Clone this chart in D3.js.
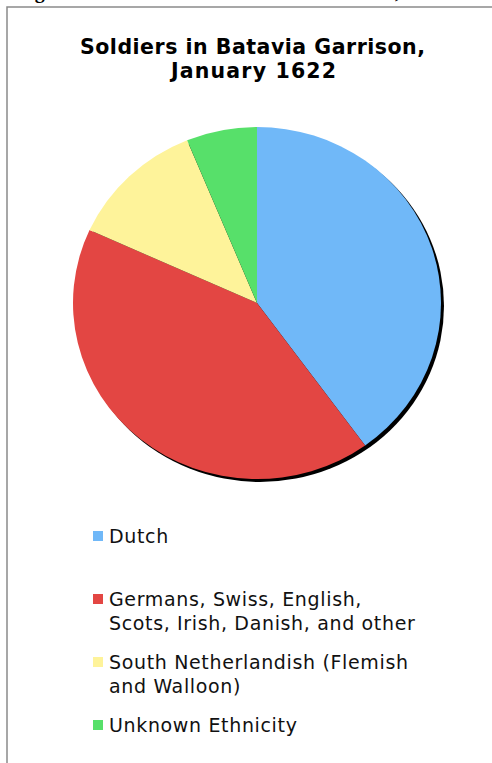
<!DOCTYPE html>
<html>
<head>
<meta charset="utf-8">
<script src="https://cdn.jsdelivr.net/npm/d3@7"></script>
<style>
    body { margin: 0; background: #fff; }
    svg { display: block; }
</style>
</head>
<body>
<div id="chart"></div>
<script>
// pie data (shares, percent)
let categories = ["Dutch", "Germans, Swiss, English, Scots, Irish, Danish, and other", "South Netherlandish (Flemish and Walloon)", "Unknown Ethnicity"];
let values = [40.0, 41.8, 12.0, 6.2];
let colors = ["#70B8F8", "#E34643", "#FEF39A", "#57E06A"];
// legend text split into lines as shown
let legendLines = [["Dutch"], ["Germans, Swiss, English,", "Scots, Irish, Danish, and other"], ["South Netherlandish (Flemish", "and Walloon)"], ["Unknown Ethnicity"]];

let width = 492, height = 763;

let svg = d3.select("#chart").append("svg")
    .attr("width", width)
    .attr("height", height);

// cut-off caption above the frame
svg.append("text")
    .attr("x", 17).attr("y", -2)
    .style("font-family", "Liberation Serif")
    .style("font-weight", "bold")
    .style("font-size", "20px")
    .text("Figure");
svg.append("text")
    .attr("x", 395).attr("y", -2)
    .style("font-family", "Liberation Serif")
    .style("font-weight", "bold")
    .style("font-size", "20px")
    .text(",");

// frame (left and top edges)
svg.append("path")
    .attr("d", `M7,${height} L7,7 L${width},7`)
    .attr("fill", "none")
    .attr("stroke", "#8a8a8a")
    .attr("stroke-width", 1.5);

// title
let title = svg.append("text")
    .style("font-family", "DejaVu Sans")
    .style("font-weight", "bold")
    .style("font-size", "20.5px")
    .attr("fill", "#000");
title.append("tspan").attr("x", 80).attr("y", 54)
    .attr("textLength", 345).attr("lengthAdjust", "spacing")
    .text("Soldiers in Batavia Garrison,");
title.append("tspan").attr("x", 171).attr("y", 78)
    .attr("textLength", 165).attr("lengthAdjust", "spacing")
    .text("January 1622");

// pie, slightly squashed vertically like the source
let cx = 257, cy = 303, rx = 184, ry = 176;

let pie = d3.pie().sort(null).value(d => d);
let arc = d3.arc().innerRadius(0).outerRadius(rx);

let g = svg.append("g")
    .attr("transform", `translate(${cx},${cy}) scale(1,${ry / rx})`);

// drop shadow
g.append("circle")
    .attr("cx", 3).attr("cy", 3 * rx / ry)
    .attr("r", rx)
    .attr("fill", "#000");

g.selectAll("path.slice")
    .data(pie(values))
    .enter().append("path")
    .attr("class", "slice")
    .attr("d", arc)
    .attr("fill", (d, i) => colors[i]);

// legend
let legendY = d3.scaleLinear().domain([0, 1]).range([543, 606]);

let legend = svg.selectAll("g.legend")
    .data(categories)
    .enter().append("g")
    .attr("class", "legend")
    .attr("transform", (d, i) => `translate(93,${legendY(i)})`);

legend.append("rect")
    .attr("x", 0).attr("y", -12)
    .attr("width", 10).attr("height", 10)
    .attr("fill", (d, i) => colors[i]);

legend.append("text")
    .style("font-family", "DejaVu Sans")
    .style("font-size", "19px")
    .style("letter-spacing", "0.65px")
    .attr("fill", "#111")
    .each(function (d, i) {
        legendLines[i].forEach((line, j) => {
            d3.select(this).append("tspan")
                .attr("x", 16)
                .attr("y", j * 23.5)
                .text(line);
        });
    });
</script>
</body>
</html>
